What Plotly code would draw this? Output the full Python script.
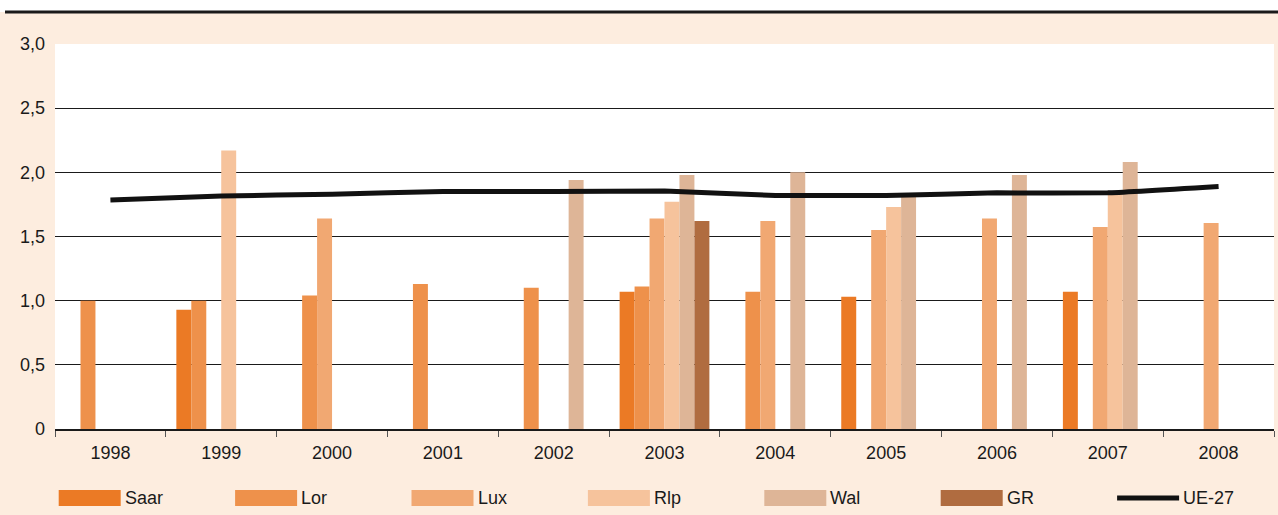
import plotly.graph_objects as go

years = ["1998", "1999", "2000", "2001", "2002", "2003", "2004", "2005", "2006", "2007", "2008"]
saar = [None, 0.93, None, None, None, 1.07, None, 1.03, None, 1.07, None]
lor = [1.00, 1.00, 1.04, 1.13, 1.10, 1.11, 1.07, None, None, None, None]
lux = [None, None, 1.64, None, None, 1.64, 1.62, 1.55, 1.64, 1.575, 1.605]
rlp = [None, 2.17, None, None, None, 1.77, None, 1.73, None, 1.85, None]
wal = [None, None, None, None, 1.94, 1.98, 2.00, 1.82, 1.98, 2.08, None]
gr = [None, None, None, None, None, 1.62, None, None, None, None, None]
ue27 = [1.785, 1.815, 1.83, 1.85, 1.85, 1.855, 1.82, 1.82, 1.84, 1.84, 1.89]

series_names = ["Saar", "Lor", "Lux", "Rlp", "Wal", "GR"]
series_vals = [saar, lor, lux, rlp, wal, gr]
colors = ["#EB7A25", "#EE914B", "#F1A872", "#F6C39C", "#DEB597", "#B06C40"]
line_name = "UE-27"
ytick_vals = [0, 0.5, 1.0, 1.5, 2.0, 2.5, 3.0]
ytick_text = ["0", "0,5", "1,0", "1,5", "2,0", "2,5", "3,0"]

W, H = 1278, 515
ML, MR, MT, MB = 55, 4, 44, 86
PW, PH = W - ML - MR, H - MT - MB

def px_x(p):
    return (p - ML) / PW

def px_y(p):
    return (H - MB - p) / PH

FONT = "Liberation Sans, Arial, sans-serif"
FS = 18

fig = go.Figure()
for name, vals, col in zip(series_names, series_vals, colors):
    fig.add_trace(go.Bar(x=years, y=vals, name=name, marker=dict(color=col, line=dict(width=0)),
                         showlegend=False))
fig.add_trace(go.Scatter(x=years, y=ue27, name=line_name, mode="lines",
                         line=dict(color="#111111", width=5, shape="spline", smoothing=0.3),
                         showlegend=False))

shapes = []
annotations = []
# top white strip and black rule
shapes.append(dict(type="rect", xref="paper", yref="paper", x0=px_x(-5), x1=px_x(W + 5),
                   y0=px_y(12), y1=px_y(-5), fillcolor="white", line=dict(width=0), layer="above"))
shapes.append(dict(type="line", xref="paper", yref="paper", x0=px_x(5), x1=px_x(W + 5),
                   y0=px_y(12), y1=px_y(12), line=dict(color="#1a1a1a", width=3), layer="above"))

# custom legend
leg_names = series_names + [line_name]
for i, name in enumerate(leg_names):
    x0 = 58.7 + 176.4 * i
    if i < len(series_names):
        shapes.append(dict(type="rect", xref="paper", yref="paper", x0=px_x(x0), x1=px_x(x0 + 62),
                           y0=px_y(506), y1=px_y(490), fillcolor=colors[i], line=dict(width=0)))
    else:
        shapes.append(dict(type="line", xref="paper", yref="paper", x0=px_x(x0), x1=px_x(x0 + 62),
                           y0=px_y(498), y1=px_y(498), line=dict(color="#111111", width=5)))
    annotations.append(dict(xref="paper", yref="paper", x=px_x(x0 + 64), y=px_y(498),
                            text=name, showarrow=False, xanchor="left", yanchor="middle",
                            font=dict(family=FONT, size=FS, color="#1a1a1a")))

fig.update_layout(
    width=W, height=H,
    margin=dict(l=ML, r=MR, t=MT, b=MB, pad=0),
    paper_bgcolor="#FDEDDF",
    plot_bgcolor="white",
    barmode="group",
    bargap=0.19,
    bargroupgap=0,
    shapes=shapes,
    annotations=annotations,
    font=dict(family=FONT, size=FS, color="#1a1a1a"),
    xaxis=dict(type="category", showgrid=False, showline=True, linecolor="#1a1a1a", linewidth=1.5,
               ticks="outside", tickson="boundaries", ticklen=6, tickcolor="#555555",
               tickfont=dict(family=FONT, size=FS, color="#1a1a1a"), ticklabelstandoff=7,
               fixedrange=True),
    yaxis=dict(range=[0, 3.0], tickvals=ytick_vals, ticktext=ytick_text, showgrid=True,
               gridcolor="#1a1a1a", gridwidth=1.2, zeroline=False, showline=False,
               ticks="", ticklabelstandoff=9,
               tickfont=dict(family=FONT, size=FS, color="#1a1a1a"), fixedrange=True),
)

fig.write_html("out.html", config={"displayModeBar": False},
               post_script="document.body.style.margin='0';document.body.style.padding='0';")
